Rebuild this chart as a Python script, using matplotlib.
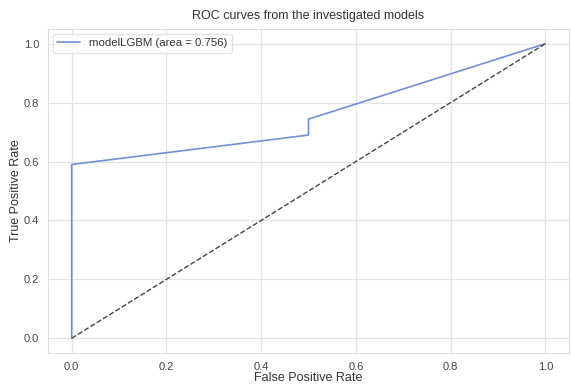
import matplotlib
matplotlib.use("Agg")
import matplotlib.pyplot as plt
import seaborn as sns

# ROC curve points for the LightGBM model
fpr = [0.0, 0.0, 0.5, 0.5, 1.0]
tpr = [0.0, 0.59, 0.69, 0.744, 1.0]
auc_value = 0.756
model_name = "modelLGBM"

# chance line
chance_x = [0.0, 1.0]
chance_y = [0.0, 1.0]

sns.set_style("whitegrid")
plt.rcParams["font.family"] = ["Liberation Sans", "DejaVu Sans"]

fig = plt.figure(figsize=(5.71, 3.85), dpi=100)
ax = fig.add_axes([48 / 571, 1 - 353 / 385, (569 - 48) / 571, (353 - 29) / 385])

ax.plot(fpr, tpr, color="#6f8fd8", lw=1.2,
        label=f"{model_name} (area = {auc_value:.3f})")
ax.plot(chance_x, chance_y, "k--", lw=1.0, color="#444444")

ax.set_xlim(-0.05, 1.05)
ax.set_ylim(-0.05, 1.05)
ax.set_xticks([0.0, 0.2, 0.4, 0.6, 0.8, 1.0])
ax.set_yticks([0.0, 0.2, 0.4, 0.6, 0.8, 1.0])
ax.tick_params(labelsize=8, colors="#444444", pad=3)

for s in ax.spines.values():
    s.set_color("#dddddd")
ax.grid(color="#e3e3e3", lw=0.9)

ax.set_title("ROC curves from the investigated models", fontsize=9, color="#333333", pad=7)
ax.set_xlabel("False Positive Rate", fontsize=9, color="#333333", labelpad=0)
ax.set_ylabel("True Positive Rate", fontsize=9, color="#333333")
ax.yaxis.set_label_coords(-0.05, 0.5)

leg = ax.legend(loc="upper left", fontsize=8.2, frameon=True, borderaxespad=0.4)
leg.get_frame().set_edgecolor("#dddddd")
for t in leg.get_texts():
    t.set_color("#333333")

fig.savefig("out.png", dpi=100)
